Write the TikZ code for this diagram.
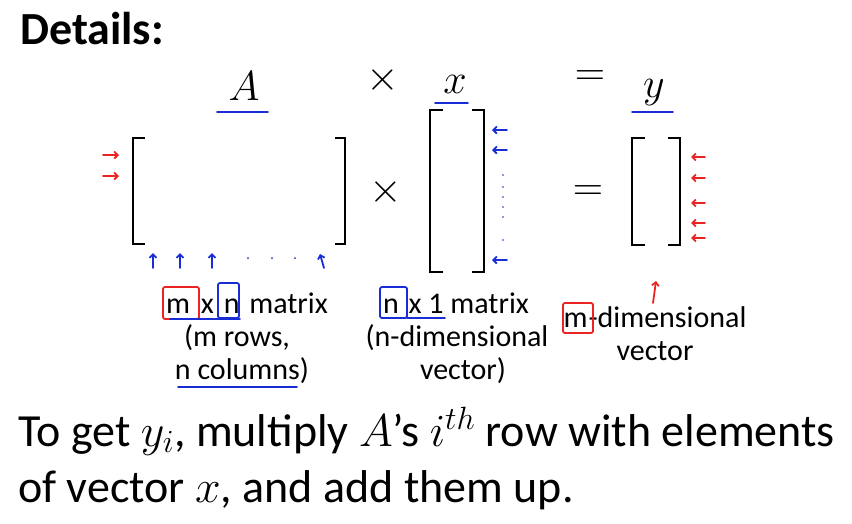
\RequirePackage{fix-cm}
\documentclass[tikz,border=0pt]{standalone}
\usepackage[no-math]{fontspec}
\setmainfont{Carlito}
\usetikzlibrary{arrows.meta}
\definecolor{penblue}{RGB}{25,45,215}
\definecolor{penred}{RGB}{235,35,35}

\begin{document}
\begin{tikzpicture}[x=1pt,y=-1pt,every node/.style={inner sep=0pt},
 sym/.style={font=\fontsize{42}{42}\selectfont},
 lbl/.style={font=\fontsize{30}{33}\selectfont,anchor=base},
 txt/.style={font=\fontsize{46}{50}\selectfont,anchor=base west},
 brk/.style={line width=2.6pt},
 bluepen/.style={penblue,line width=1.8pt,line cap=round,line join=round},
 redpen/.style={penred,line width=1.8pt,line cap=round,line join=round},
 tip/.style={-{Straight Barb[length=3.5pt,width=7pt]}}]
\useasboundingbox (0,0) rectangle (852,523);
\node[anchor=base west,font=\bfseries\fontsize{46}{46}\selectfont] (title) at (20,44) {Details:};
% top line of names
\node[sym,anchor=base] (nameA) at (244,100) {$A$};
\node[sym] (times1) at (383,80) {$\times$};
\node[sym,anchor=base] (namex) at (455,93) {$x$};
\node[sym] (eq1) at (590,78) {$=$};
\node[sym,anchor=base] (namey) at (654,97) {$y$};
\draw[bluepen] (217,112) -- (268,112);
\draw[bluepen] (435,103) -- (468,103);
\draw[bluepen] (632,112) -- (673,112);
% brackets
\draw[brk] (145,138) -| (133,244) -- (145,244);
\draw[brk] (335,138) -| (345,244) -- (335,244);
\draw[brk] (443,110) -| (430,272) -- (443,272);
\draw[brk] (472,110) -| (484,272) -- (472,272);
\draw[brk] (645,138) -| (632,245) -- (645,245);
\draw[brk] (668,138) -| (680,245) -- (668,245);
\node[sym] (times2) at (386,192) {$\times$};
\node[sym] (eq2) at (588,193) {$=$};
% pen marks
\foreach \y in {155,176} \draw[redpen,tip] (103,\y) -- (119,\y);
\foreach \x in {153,180,212} \draw[bluepen,tip] (\x,268) -- (\x,253);
\foreach \x in {248,272,295} \fill[penblue] (\x,258) circle (1pt);
\draw[bluepen,tip] (324,268) -- (320,254);
\foreach \y in {130,150,260} \draw[bluepen,tip] (507,\y) -- (492,\y);
\foreach \y in {175,187,197,207,217,240} \fill[penblue] (503,\y) circle (0.9pt);
\foreach \y in {157,178,203,223,238} \draw[redpen,tip] (705,\y) -- (691,\y);
\draw[redpen,tip] (653,303) -- (656,281);
% labels
\node[lbl] (dimA) at (247,313) {m\hspace{4pt} x\hspace{3pt} n\hspace{3pt} matrix};
\node[lbl] (rowsA) at (237,346) {(m rows,};
\node[lbl] (colsA) at (242,379) {n columns)};
\node[lbl] (dimx) at (456,313) {n\hspace{3pt} x 1 matrix};
\node[lbl] (vecx1) at (457,346) {(n-dimensional};
\node[lbl] (vecx2) at (463,379) {vector)};
\node[lbl] (dimy1) at (655,327) {m\hspace{1pt}-dimensional};
\node[lbl] (dimy2) at (655,360) {vector};
\draw[redpen,rounded corners=2pt] (163,287) rectangle (199,319);
\draw[bluepen,rounded corners=2pt] (218,283) rectangle (239,318);
\draw[bluepen] (170,319) -- (240,319);
\draw[bluepen,rounded corners=2pt] (380,287) rectangle (407,318);
\draw[bluepen] (407,318) -- (445,318);
\draw[bluepen] (178,387) -- (297,387);
\draw[redpen,rounded corners=2pt] (563,303) rectangle (593,333);
% bottom text
\node[txt] (line1) at (18,446) {To get $y_i$, multiply $A$’s $i^{th}$ row with elements};
\node[txt] (line2) at (18,502) {of vector $x$, and add them up.};
\end{tikzpicture}
\end{document}
